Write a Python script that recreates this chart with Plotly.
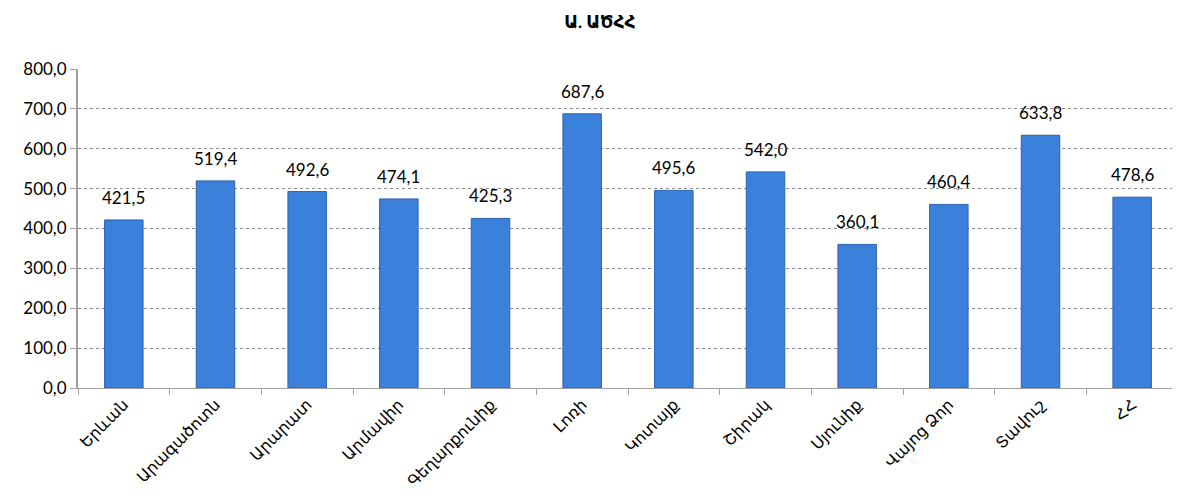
import plotly.graph_objects as go

categories = ["Երևան", "Արագածոտն", "Արարատ", "Արմավիր", "Գեղարքունիք", "Լոռի",
              "Կոտայք", "Շիրակ", "Սյունիք", "Վայոց Ձոր", "Տավուշ", "ՀՀ"]
values = [421.5, 519.4, 492.6, 474.1, 425.3, 687.6, 495.6, 542.0, 360.1, 460.4, 633.8, 478.6]
title_text = "Ա. ԱԾՀՀ"

font_family = "Lato, DejaVu Sans, sans-serif"

fig = go.Figure()
fig.add_trace(go.Bar(
    x=categories, y=values,
    marker=dict(color="#3B80DA", line=dict(color="#2C62AE", width=1)),
))

for c, v in zip(categories, values):
    fig.add_annotation(
        x=c, y=v, text=f"{v:.1f}".replace(".", ","), showarrow=False,
        yanchor="bottom", yshift=10,
        font=dict(size=17, color="#000000", family=font_family),
    )

fig.update_layout(
    width=1172, height=496,
    separators=", ",
    title=dict(text="<b>" + title_text + "</b>", x=0.505, xanchor="center", y=0.972, yanchor="middle",
               font=dict(size=17, color="#000000", family=font_family)),
    margin=dict(l=70, r=2, t=61, b=116, autoexpand=False),
    plot_bgcolor="white", paper_bgcolor="white",
    bargap=0.58,
    showlegend=False,
    font=dict(family=font_family, color="#000000"),
)
fig.update_xaxes(
    type="category", tickangle=-45, tickson="boundaries", ticks="outside", ticklen=6,
    tickcolor="#A0A0A0", showline=True, linecolor="#A0A0A0", linewidth=1, showgrid=False,
    tickfont=dict(size=16, color="#000000"), automargin=False,
)
fig.update_yaxes(
    range=[0, 800], dtick=100, tickformat=".1f", showgrid=True,
    gridcolor="#8C8C8C", griddash="dot", gridwidth=1,
    showline=True, linecolor="#A0A0A0", linewidth=2, ticks="outside", ticklen=6, tickcolor="#A0A0A0",
    tickfont=dict(size=17, color="#000000"), zeroline=False, automargin=False,
)

fig.write_html("out.html")
